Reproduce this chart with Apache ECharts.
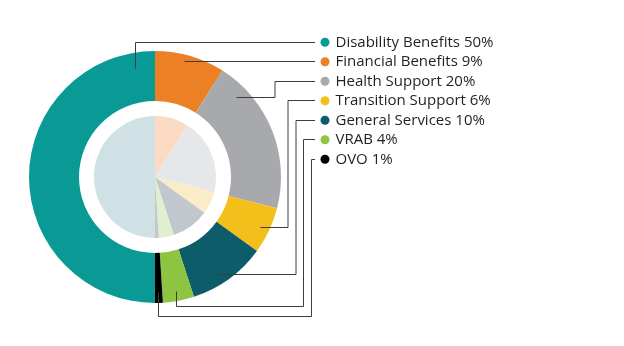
<!DOCTYPE html>
<html>
<head>
<meta charset="utf-8">
<style>
  html, body { margin: 0; padding: 0; background: #ffffff; }
  #chart { width: 624px; height: 346px; }
</style>
<script src="https://cdn.jsdelivr.net/npm/echarts@6/dist/echarts.min.js"></script>
</head>
<body>
<div id="chart"></div>
<script>
// Share of spending by program area (percent)
const categories = ['Disability Benefits', 'Financial Benefits', 'Health Support',
  'Transition Support', 'General Services', 'VRAB', 'OVO'];
const shares = [50, 9, 20, 6, 10, 4, 1];

const ringColors  = ['#0a9a96', '#ec8024', '#a8a9ad', '#f3c01b', '#0c5c69', '#8dc540', '#000000'];
const innerColors = ['#cfe1e4', '#fcdbc4', '#e6e7e9', '#fbebc9', '#c2c7ce', '#e2eed0', '#c6c7c9'];

// Geometry of the two pies and legend
const CX = 155, CY = 177;
const RING = [76, 126];
const INNER_R = 61;
const LEG_LEFT = 320.5, LEG_TOP = 32.5, ROW_H = 19.5, LINE_END = 315;

// Leader routes: anchor (angle clockwise from 12 o'clock, radius), then the
// x/y of the elbow used to run the line over to the legend row.
const leaders = [
  { deg: -10,   r: 110, route: 'up' },
  { deg: 14.7,  r: 118, route: 'flat' },
  { deg: 45.7,  r: 114, elbowX: 275 },
  { deg: 115.6, r: 117, elbowX: 288 },
  { deg: 147,   r: 116, elbowX: 296 },
  { deg: 169.3, r: 117, dropY: 306, elbowX: 303.5 },
  { deg: 178.2, r: 116, dropY: 316, elbowX: 311.5 }
];

const crisp = v => Math.round(v - 0.5) + 0.5;

function leaderPoints(i) {
  const L = leaders[i];
  const a = L.deg * Math.PI / 180;
  const ax = crisp(CX + L.r * Math.sin(a));
  const ay = crisp(CY - L.r * Math.cos(a));
  const rowY = crisp(LEG_TOP + ROW_H * (i + 0.5));
  if (L.route === 'up') return [[ax, ay], [ax, rowY], [LINE_END, rowY]];
  if (L.route === 'flat') return [[ax, rowY], [LINE_END, rowY]];
  if (L.dropY) return [[ax, ay], [ax, L.dropY + 0.5], [L.elbowX, L.dropY + 0.5], [L.elbowX, rowY], [LINE_END, rowY]];
  return [[ax, ay], [L.elbowX, ay], [L.elbowX, rowY], [LINE_END, rowY]];
}

const ringData = categories.map((n, i) => ({ name: n, value: shares[i], itemStyle: { color: ringColors[i] } }));
const innerData = categories.map((n, i) => ({ name: n, value: shares[i], itemStyle: { color: innerColors[i] } }));

const chart = echarts.init(document.getElementById('chart'), null, { renderer: 'canvas' });

chart.setOption({
  animation: false,
  backgroundColor: '#ffffff',
  legend: {
    orient: 'vertical',
    left: LEG_LEFT,
    top: LEG_TOP,
    padding: 0,
    itemGap: 0,
    itemWidth: 9,
    itemHeight: 9,
    icon: 'circle',
    selectedMode: false,
    data: categories,
    formatter: name => name + ' ' + shares[categories.indexOf(name)] + '%',
    textStyle: {
      fontFamily: 'Open Sans',
      fontSize: 15,
      lineHeight: ROW_H,
      color: '#231f20',
      padding: [0, 0, 0, 1]
    }
  },
  series: [
    {
      type: 'pie',
      center: [CX, CY],
      radius: RING,
      startAngle: 270,
      clockwise: true,
      label: { show: false },
      labelLine: { show: false },
      emphasis: { disabled: true },
      data: ringData
    },
    {
      type: 'pie',
      center: [CX, CY],
      radius: [0, INNER_R],
      startAngle: 270,
      clockwise: true,
      label: { show: false },
      labelLine: { show: false },
      emphasis: { disabled: true },
      data: innerData
    }
  ],
  graphic: categories.map((n, i) => ({
    type: 'polyline',
    silent: true,
    z: 10,
    shape: { points: leaderPoints(i) },
    style: { stroke: '#3d3d3d', lineWidth: 1, fill: null }
  }))
});
</script>
</body>
</html>
